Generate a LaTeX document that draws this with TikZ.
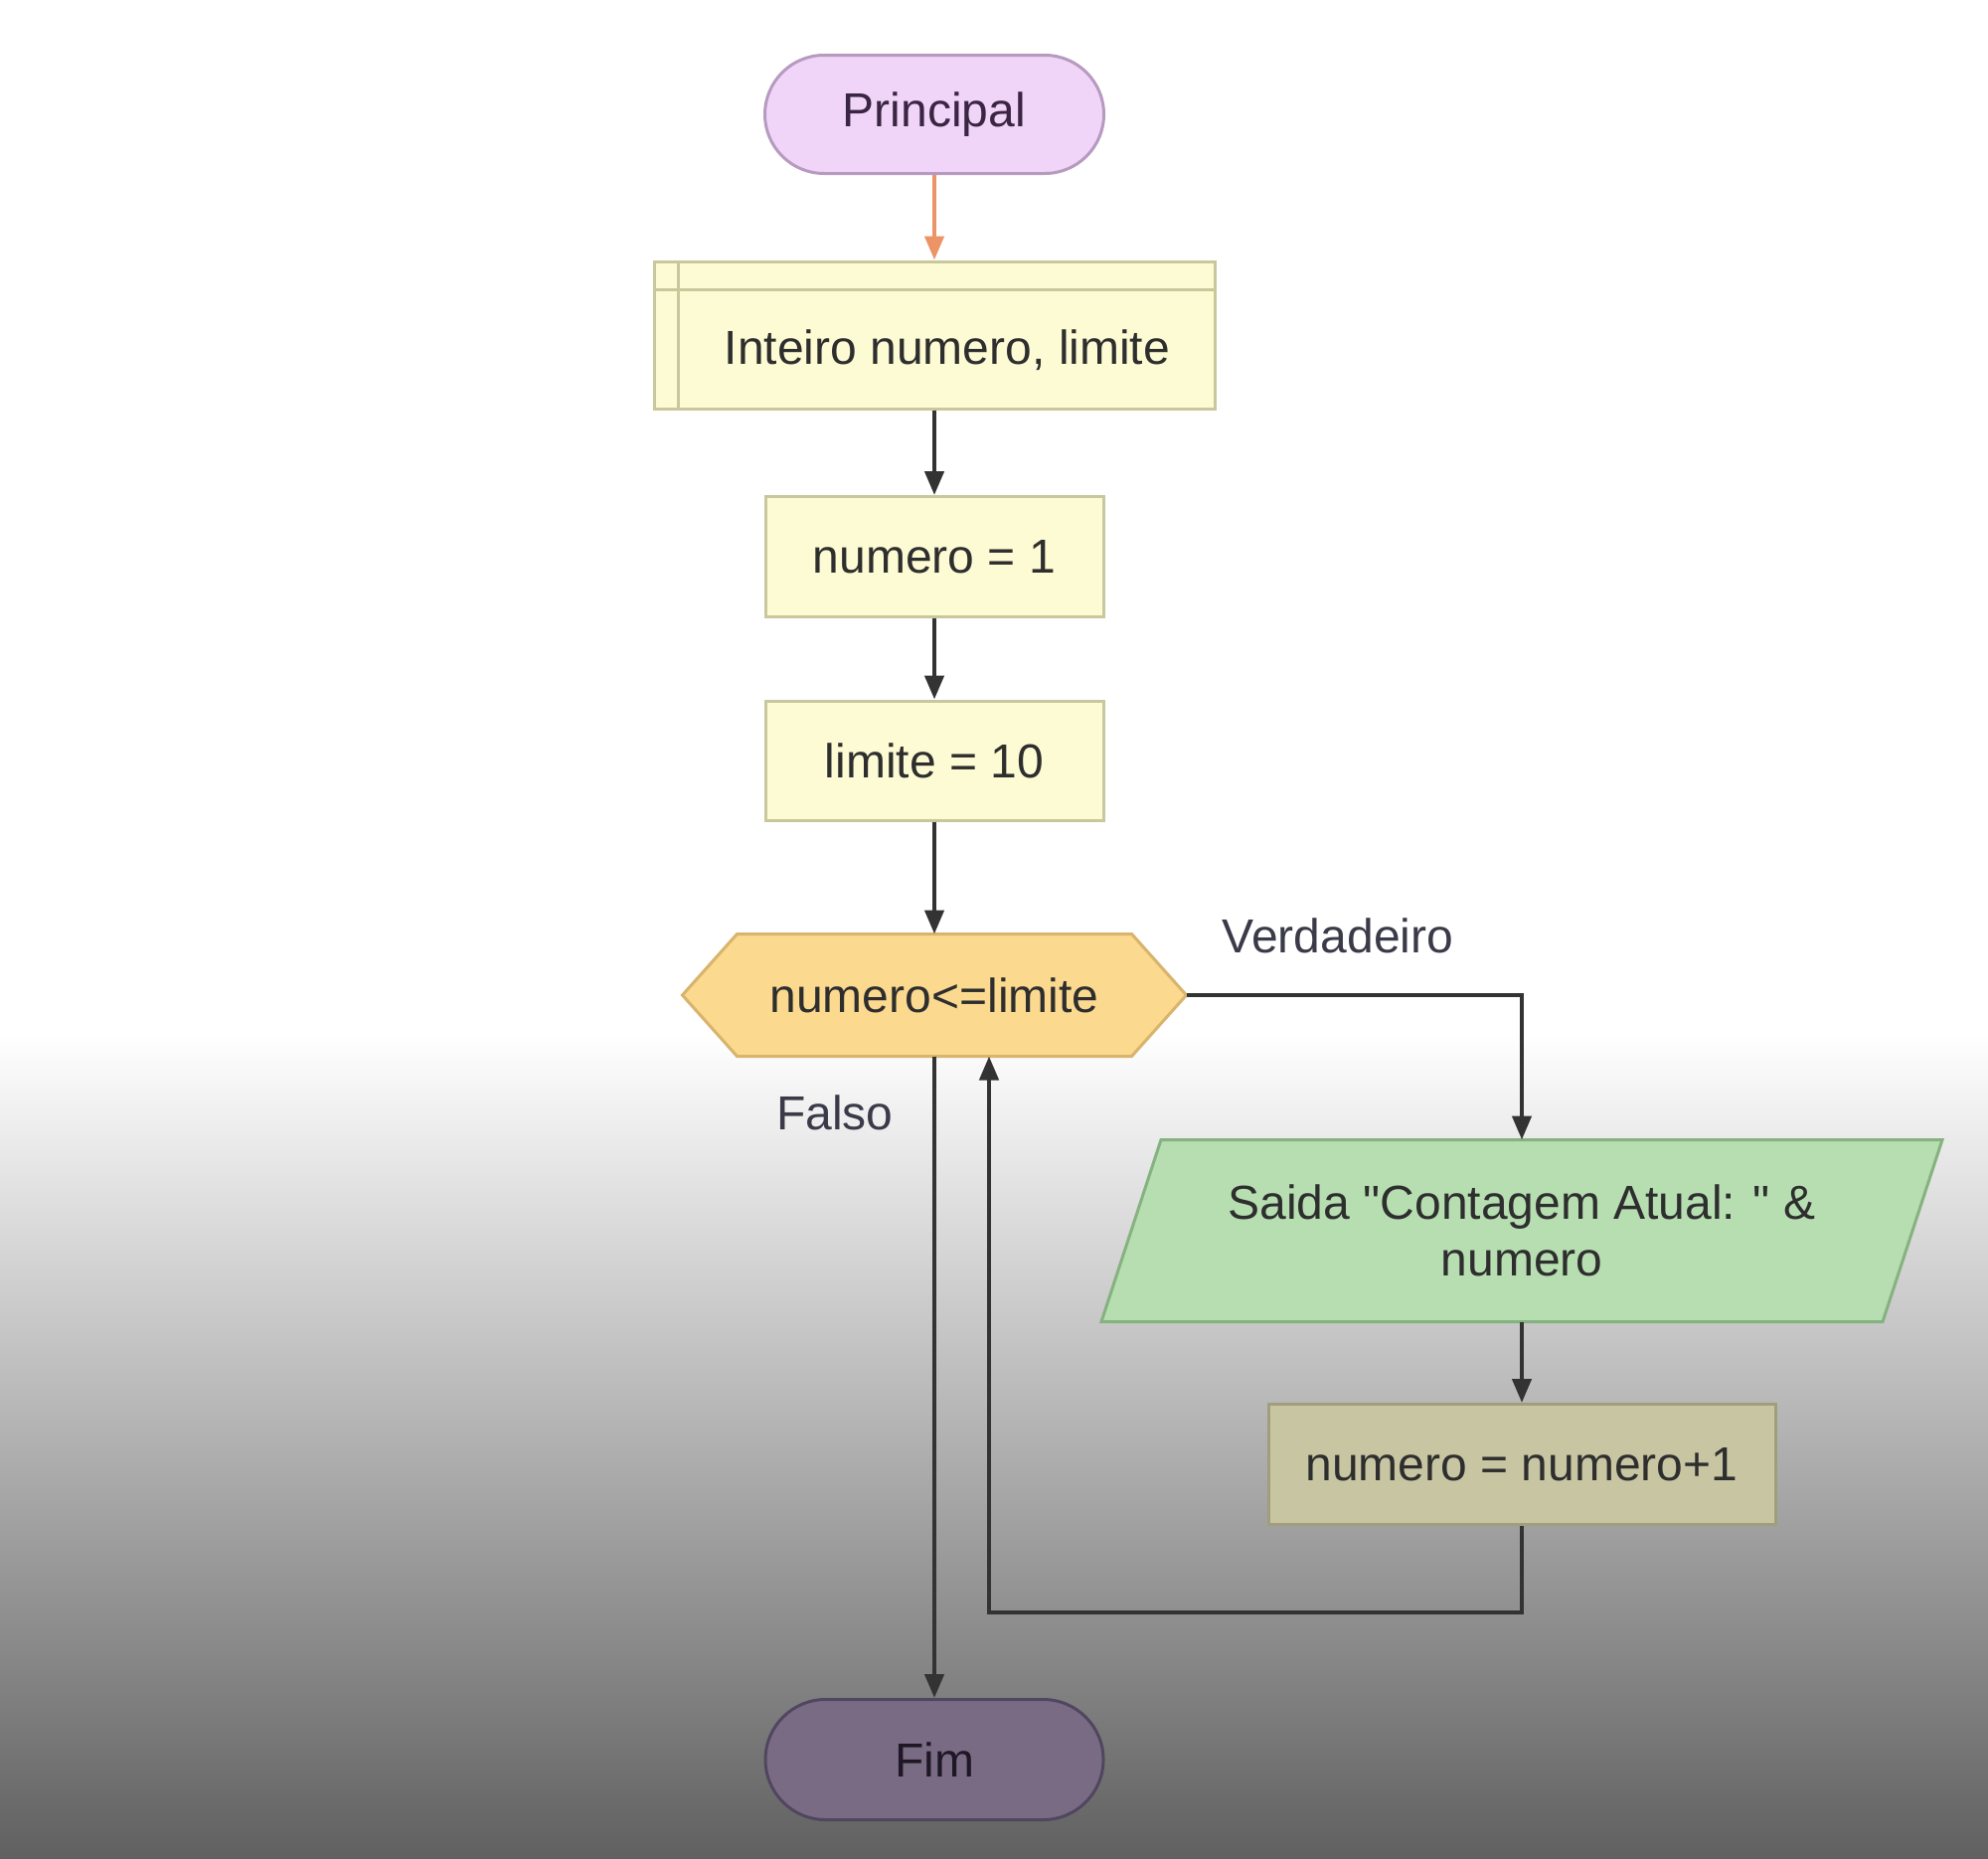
\documentclass[tikz,border=0pt]{standalone}
\usepackage{fontspec}
\setmainfont{Liberation Sans}[Ligatures=TeXOff]
\usetikzlibrary{shapes.misc,arrows.meta,calc}
\definecolor{txt}{HTML}{2E2E2E}
\definecolor{ln}{HTML}{333333}
\definecolor{orangeln}{HTML}{EC9466}
\definecolor{termfill}{HTML}{F1D5F8}
\definecolor{termdraw}{HTML}{B79AC0}
\definecolor{termtxt}{HTML}{3A2542}
\definecolor{yelfill}{HTML}{FDFBD3}
\definecolor{yeldraw}{HTML}{C9C79C}
\definecolor{hexfill}{HTML}{FBD98F}
\definecolor{hexdraw}{HTML}{D8B46C}
\definecolor{grnfill}{HTML}{B6DEB1}
\definecolor{grndraw}{HTML}{86B280}
\definecolor{incfill}{HTML}{C8C6A2}
\definecolor{incdraw}{HTML}{A09E7C}
\definecolor{fimfill}{HTML}{7A6B84}
\definecolor{fimdraw}{HTML}{514660}
\definecolor{fimtxt}{HTML}{1E1826}
\definecolor{lbltxt}{HTML}{3A3A48}
\definecolor{bgbottom}{HTML}{606060}
\pgfdeclarelayer{back}
\pgfsetlayers{back,main}
\tikzset{
  base/.style={line width=1.5pt, inner sep=0pt, align=center, text=txt},
  term/.style={base, draw, rounded rectangle, minimum width=170pt, minimum height=60pt},
  yelbox/.style={base, draw=yeldraw, fill=yelfill, rectangle, minimum width=170pt, minimum height=60.5pt},
  conn/.style={line width=2.2pt, draw=ln, -{Triangle[length=12pt,width=9.5pt]}},
  lbl/.style={text=lbltxt, inner sep=0pt},
}
\begin{document}
\begin{tikzpicture}[x=0.5pt,y=-0.5pt,font=\fontsize{24}{28.5}\selectfont]
\useasboundingbox (0,0) rectangle (2000,1869);
% nodes
\node[term, fill=termfill, draw=termdraw, text=termtxt, minimum width=170.5pt, minimum height=59.5pt] (start) at (940,115) {Principal};
\node[base, draw=yeldraw, fill=yelfill, rectangle, minimum width=282pt, minimum height=74pt] (decl) at (940,337) {};
\node[base] (declt) at (953,352) {Inteiro numero, limite};
\node[yelbox] (n1) at (940,560) {numero = 1};
\node[yelbox, minimum height=60pt] (lim) at (940,765) {limite = 10};
\node[base, minimum width=252pt, minimum height=60pt] (dec) at (940,1001) {numero<=limite};
\node[lbl] (vlab) at (1346,941) {Verdadeiro};
\node[lbl] (flab) at (840,1119) {Falso};
\node[base, minimum width=421.5pt, minimum height=90pt] (out) at (1531,1238) {Saida "Contagem Atual: " \&\\numero};
\node[base, draw=incdraw, fill=incfill, rectangle, minimum width=255pt, minimum height=60.5pt] (inc) at (1531,1473) {numero = numero+1};
\node[term, fill=fimfill, draw=fimdraw, text=fimtxt, minimum height=60.5pt] (fim) at (940,1770) {Fim};
\coordinate (lb) at (995,1622);
% background and drawn shapes
\begin{pgfonlayer}{back}
  \fill[white] (0,0) rectangle (2000,1869);
  \shade[top color=white, bottom color=bgbottom] (0,1040) rectangle (2000,1870);
  \draw[line width=1.5pt, draw=hexdraw, fill=hexfill]
    (dec.west) -- ($(dec.north west)+(55,0)$) -- ($(dec.north east)+(-55,0)$)
    -- (dec.east) -- ($(dec.south east)+(-55,0)$) -- ($(dec.south west)+(55,0)$) -- cycle;
  \draw[line width=1.5pt, draw=grndraw, fill=grnfill]
    (out.south west) -- ($(out.north west)+(60,0)$) -- (out.north east)
    -- ($(out.south east)+(-60,0)$) -- cycle;
\end{pgfonlayer}
\draw[line width=1.5pt, draw=yeldraw] ($(decl.north west)+(26,0)$) -- ($(decl.south west)+(26,0)$);
\draw[line width=1.5pt, draw=yeldraw] ($(decl.north west)+(0,30)$) -- ($(decl.north east)+(0,30)$);
% connectors
\draw[conn, draw=orangeln, -{Triangle[length=12pt,width=9.5pt,fill=orangeln]}] (start.south) -- (decl.north);
\draw[conn] (decl.south) -- (n1.north);
\draw[conn] (n1.south) -- (lim.north);
\draw[conn] (lim.south) -- (dec.north);
\draw[conn] (dec.east) -| (out.north);
\draw[conn] (out.south) -- (inc.north);
\draw[conn] (inc.south) |- (lb) -- (lb |- dec.south);
\draw[conn] (dec.south) -- (fim.north);
\end{tikzpicture}
\end{document}
